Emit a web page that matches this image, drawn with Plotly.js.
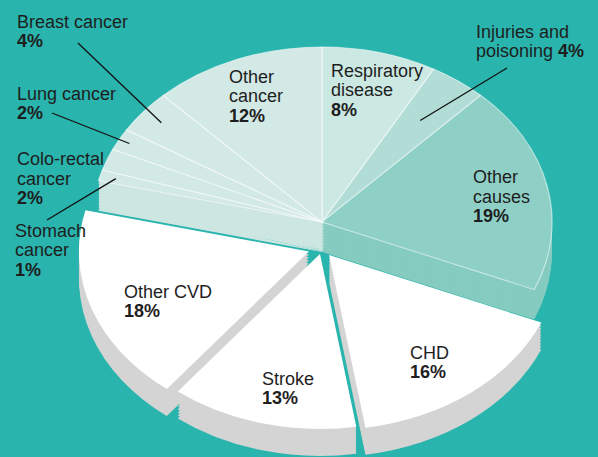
<!DOCTYPE html>
<html><head><meta charset="utf-8">
<script src="https://cdn.plot.ly/plotly-3.0.1.min.js"></script>
<style>
html,body{margin:0;padding:0;background:#29b4ad;overflow:hidden;}
#wrap{position:relative;width:598px;height:457px;overflow:hidden;background:#29b4ad;}
#pie{position:absolute;left:0;top:0;width:598px;height:600px;transform-origin:322px 0;transform:scaleX(1.3143);}
#txt{position:absolute;left:0;top:0;width:598px;height:457px;}
</style></head><body>
<div id="wrap"><div id="pie"></div><div id="txt"></div></div>
<script>
// ---- data ----
const causes = ["Respiratory disease","Injuries and poisoning","Other causes","CHD","Stroke","Other CVD",
                "Stomach cancer","Colo-rectal cancer","Lung cancer","Breast cancer","Other cancer"];
const shares = [8,4,19,16,13,18,1,2,2,4,12];
const isCVD  = [false,false,false,true,true,true,false,false,false,false,false];
const labelLines = [["Respiratory","disease"],["Injuries and","poisoning"],["Other","causes"],["CHD"],["Stroke"],
                    ["Other CVD"],["Stomach","cancer"],["Colo-rectal","cancer"],["Lung cancer"],["Breast cancer"],["Other","cancer"]];

// ---- styles / geometry ----
const TOP = ["#cbe8e2","#b2ddd6","#8fd0c6","#ffffff","#ffffff","#ffffff","#d3e9e6","#d3e9e6","#d3e9e6","#d3e9e6","#d3e9e6"];
const SIDE= ["#c0e2dc","#a6d8d0","#85cbc0","#d4d4d4","#d4d4d4","#d4d4d4","#cde6e2","#cde6e2","#cde6e2","#cde6e2","#cde6e2"];
const CLEAR = "rgba(0,0,0,0)";
const W=598, H=600, CX=322, CY=222, R=175, RX=230, RY=175, DEPTH=27, SIDE_DEPTH_OTHER=30, GROUP_DY=26;
const PULLS = [0,0,0,0.05,0.035,0.06,0,0,0,0,0];
const MAXPULL = Math.max(...PULLS);

function pieTrace(colors, dy, lineW){
  const half = R*(1+MAXPULL);
  const cy = CY+dy;
  return {
    type:'pie', values:shares, labels:causes, sort:false, direction:'clockwise', rotation:0,
    pull:PULLS, textinfo:'none', hoverinfo:'none', showlegend:false,
    marker:{colors:colors, line:{color:'rgba(255,255,255,0.55)', width:lineW}},
    domain:{x:[(CX-half)/W,(CX+half)/W], y:[1-(cy+half)/H, 1-(cy-half)/H]}
  };
}
const traces=[];
const nonCvdSide = SIDE.map((c,i)=> isCVD[i]?CLEAR:c);
const nonCvdTop  = TOP.map((c,i)=> isCVD[i]?CLEAR:c);
const cvdSide    = SIDE.map((c,i)=> isCVD[i]?c:CLEAR);
const cvdTop     = TOP.map((c,i)=> isCVD[i]?c:CLEAR);
for(let d=SIDE_DEPTH_OTHER; d>0; d-=3) traces.push(pieTrace(nonCvdSide, d, 0));
traces.push(pieTrace(nonCvdTop, 0, isCVD.map(c=>c?0:1)));
for(let d=DEPTH; d>0; d-=3) traces.push(pieTrace(cvdSide, GROUP_DY+d, 0));
traces.push(pieTrace(cvdTop, GROUP_DY, 0));

Plotly.newPlot('pie', traces, {
  width:W, height:H, margin:{l:0,r:0,t:0,b:0}, showlegend:false,
  paper_bgcolor:'#29b4ad'
}, {staticPlot:true});

// ---- labels overlay ----
const LINE = 19.4;
const labelPos = [
 {x:331, y:77.3},
 {x:476, y:38, inline:true},
 {x:473, y:183.6},
 {x:410, y:359},
 {x:262, y:385.3},
 {x:124, y:298.3},
 {x:15,  y:237.3},
 {x:17,  y:165.6},
 {x:17,  y:100.3},
 {x:17,  y:27.8},
 {x:229, y:83}
];
const total = shares.reduce((a,b)=>a+b,0);
const mids=[]; let acc=0;
shares.forEach(v=>{ mids.push((acc+v/2)/total*2*Math.PI); acc+=v; });
const font={family:'"Liberation Sans", Arial, sans-serif', size:18, color:'#1e1e1e'};
const annotations=[];
labelLines.forEach((lines,i)=>{
  const p=labelPos[i];
  const pct='<b>'+shares[i]+'%</b>';
  const rows = p.inline ? lines.slice(0,-1).concat([lines[lines.length-1]+' '+pct]) : lines.concat([pct]);
  rows.forEach((t,j)=>{
    annotations.push({x:p.x-1.5, y:p.y+j*LINE-6.3, xref:'x', yref:'y', xanchor:'left', yanchor:'middle',
      text:t, showarrow:false, font:font, borderpad:0});
  });
});
const leaders=[{i:9,from:[78,43],r:0.9},{i:8,from:[52,113],r:0.95},{i:6,from:[47,220],r:0.93},{i:1,from:[507,68],r:0.72}];
const shapes = leaders.map(l=>{
  const a=mids[l.i];
  return {type:'line', xref:'x', yref:'y', x0:l.from[0], y0:l.from[1],
    x1:CX+Math.sin(a)*l.r*RX, y1:CY-Math.cos(a)*l.r*RY, line:{color:'#111', width:1.3}};
});
Plotly.newPlot('txt', [], {
  width:598, height:457, margin:{l:0,r:0,t:0,b:0}, showlegend:false,
  paper_bgcolor:'rgba(0,0,0,0)', plot_bgcolor:'rgba(0,0,0,0)',
  xaxis:{range:[0,598], visible:false, fixedrange:true},
  yaxis:{range:[457,0], visible:false, fixedrange:true},
  annotations:annotations, shapes:shapes
}, {staticPlot:true});
</script></body></html>
